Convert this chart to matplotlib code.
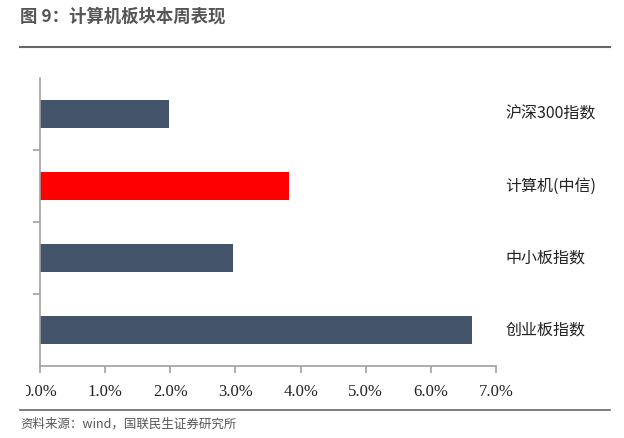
import matplotlib
matplotlib.use('Agg')
import matplotlib.pyplot as plt
from matplotlib.transforms import Bbox

plt.rcParams['font.family'] = ['Noto Sans CJK SC', 'DejaVu Sans']

# 数据（自上而下）
categories = ['沪深300指数', '计算机(中信)', '中小板指数', '创业板指数']
returns = [1.98, 3.82, 2.96, 6.63]
bar_colors = ['#44546A', '#FF0000', '#44546A', '#44546A']
xticks = [0, 1, 2, 3, 4, 5, 6, 7]
xtick_labels = ['0.0%', '1.0%', '2.0%', '3.0%', '4.0%', '5.0%', '6.0%', '7.0%']

fig = plt.figure(figsize=(6.24, 4.38), dpi=100)
ax = fig.add_axes([40 / 624, 1 - 366 / 438, 456 / 624, 288 / 438])

ypos = list(range(len(categories)))[::-1]
ax.barh(ypos, returns, height=0.4, color=bar_colors, zorder=2)

ax.set_xlim(0, 7)
ax.set_ylim(-0.5, 3.5)
ax.set_xticks(xticks)
ax.set_xticklabels(xtick_labels, family='Liberation Serif', fontsize=12, color='#222222')
ax.set_yticks([0.5, 1.5, 2.5])
ax.set_yticklabels([])

for s in ['top', 'right']:
    ax.spines[s].set_visible(False)
for s in ['left', 'bottom']:
    ax.spines[s].set_color('#A0A0A0')
    ax.spines[s].set_linewidth(1.2)
ax.tick_params(axis='both', color='#A0A0A0', length=5, width=1.2, direction='out')
ax.tick_params(axis='x', pad=8)

# 原图最左边的 0.0% 被裁掉了一点
first = ax.get_xticklabels()[0]
first.set_clip_box(Bbox([[26, 0], [624, 438]]))
first.set_clip_on(True)

# 类别标签放在右侧
for y, name in zip(ypos, categories):
    ax.text(7.14, y, name, ha='left', va='center', fontsize=11.5,
            color='#222222', clip_on=False)

# 标题和分隔线
fig.text(20 / 624, 1 - 17 / 438, '图 9：计算机板块本周表现', fontsize=12.5,
         fontweight='bold', color='#555555', ha='left', va='center')
fig.add_artist(plt.Line2D([20 / 624, 610 / 624], [1 - 47 / 438, 1 - 47 / 438],
                          color='#666666', linewidth=1.5))
fig.add_artist(plt.Line2D([20 / 624, 610 / 624], [1 - 410 / 438, 1 - 410 / 438],
                          color='#666666', linewidth=1.2))
fig.text(20 / 624, 1 - 424 / 438, '资料来源：wind，国联民生证券研究所', fontsize=9,
         color='#555555', ha='left', va='center')

fig.savefig('out.png', dpi=100, facecolor='white')
